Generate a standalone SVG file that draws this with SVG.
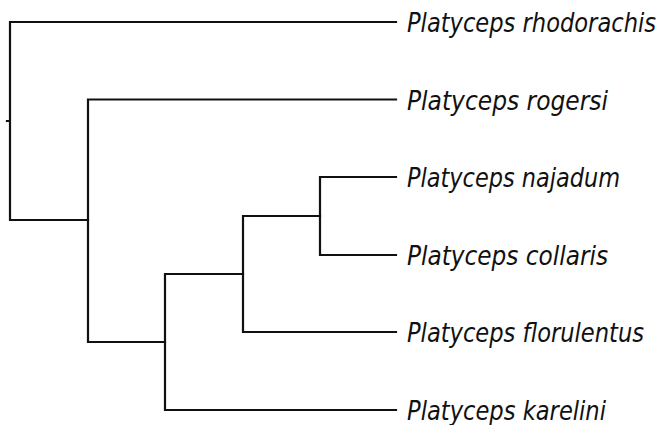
<svg xmlns="http://www.w3.org/2000/svg" width="666" height="425" viewBox="0 0 666 425">
  <style>
    .br { fill: none; stroke: #111; stroke-width: 2.2; stroke-linecap: square; }
    .tip { font-family: "DejaVu Sans Condensed", "DejaVu Sans", sans-serif; font-style: italic; font-size: 27px; fill: #111; }
  </style>
  <rect width="666" height="425" fill="#fff"/>
  <!-- cladogram branches -->
  <g id="branches">
    <path class="br" d="M7,121 H10 M10,22 V220 M10,22 H396 M10,220 H88"/>
    <path class="br" d="M88,99.5 V342 M88,99.5 H396 M88,342 H165"/>
    <path class="br" d="M165,274 V410 M165,410 H396 M165,274 H243"/>
    <path class="br" d="M243,216 V332 M243,332 H396 M243,216 H320"/>
    <path class="br" d="M320,177 V255 M320,177 H396 M320,255 H396"/>
  </g>
  <!-- taxon labels -->
  <g id="taxon-rhodorachis"><text class="tip" x="407" y="32" textLength="249" lengthAdjust="spacingAndGlyphs">Platyceps rhodorachis</text></g>
  <g id="taxon-rogersi"><text class="tip" x="407" y="109.5" textLength="201" lengthAdjust="spacingAndGlyphs">Platyceps rogersi</text></g>
  <g id="taxon-najadum"><text class="tip" x="407" y="187" textLength="213" lengthAdjust="spacingAndGlyphs">Platyceps najadum</text></g>
  <g id="taxon-collaris"><text class="tip" x="407" y="265" textLength="201" lengthAdjust="spacingAndGlyphs">Platyceps collaris</text></g>
  <g id="taxon-florulentus"><text class="tip" x="407" y="342" textLength="237" lengthAdjust="spacingAndGlyphs">Platyceps florulentus</text></g>
  <g id="taxon-karelini"><text class="tip" x="407" y="420" textLength="199" lengthAdjust="spacingAndGlyphs">Platyceps karelini</text></g>
</svg>
